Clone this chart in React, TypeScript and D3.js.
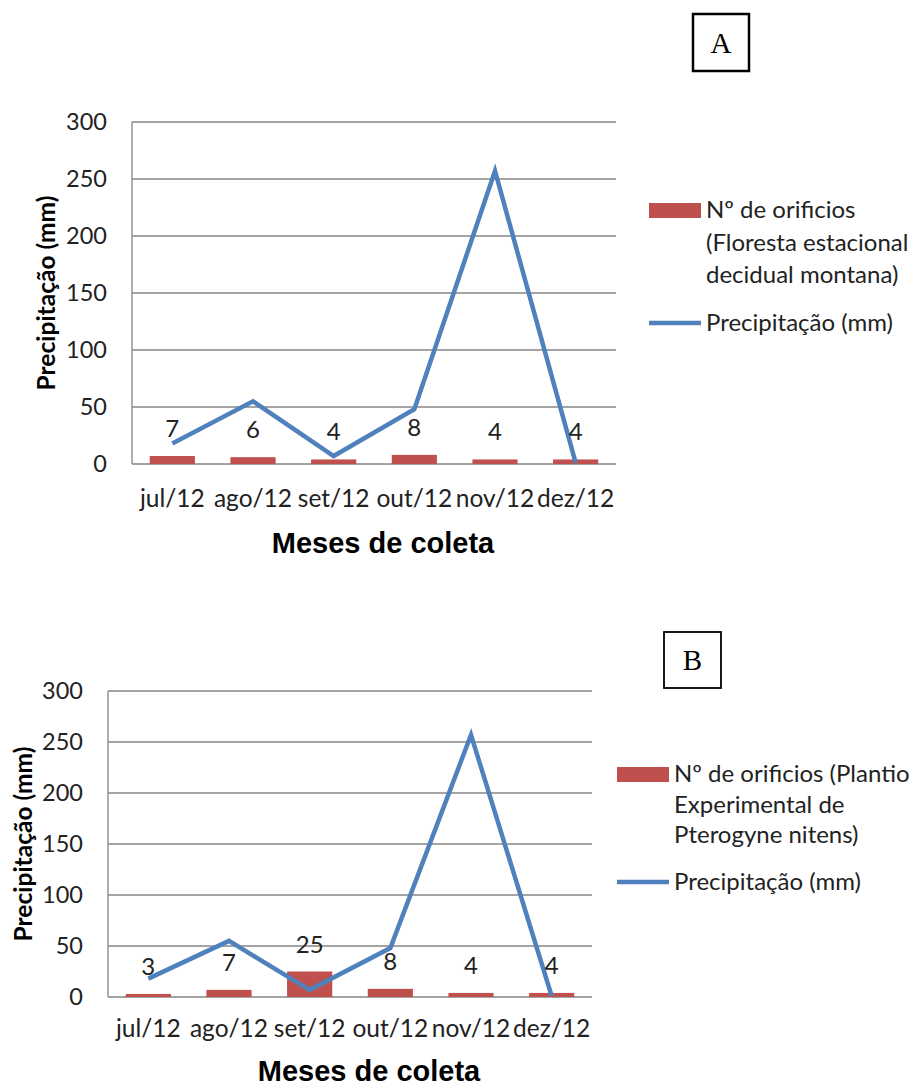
import React from "react";
import * as d3 from "d3";

const months = ["jul/12", "ago/12", "set/12", "out/12", "nov/12", "dez/12"];
const precipitation = [18, 55, 7, 48, 257, 1];
const holesA = [7, 6, 4, 8, 4, 4];
const holesB = [3, 7, 25, 8, 4, 4];
const yTicks = [0, 50, 100, 150, 200, 250, 300];
const legendA = ["Nº de orificios", "(Floresta estacional", "decidual montana)"];
const legendB = ["Nº de orificios (Plantio", "Experimental de", "Pterogyne nitens)"];
const lineLabel = "Precipitação (mm)";
const yTitle = "Precipitação (mm)";
const xTitle = "Meses de coleta";

const FONT = "Lato, 'Open Sans', sans-serif";
const RED = "#C0504D";
const BLUE = "#4F81BD";
const GRID = "#868686";

type PanelProps = {
  left: number; top: number; width: number; height: number;
  holes: number[]; legend: string[];
  legX: number; legY: number; legSpacing: number; lineY: number;
  yTitleX: number; xTitleX: number; xTitleY: number; tickY: number;
  boxX: number; boxY: number; boxW: number; boxH: number; boxLabel: string; boxStroke: number;
};

function Panel(p: PanelProps) {
  const x = d3.scaleBand<string>().domain(months).range([p.left, p.left + p.width]).paddingInner(0.44).paddingOuter(0.22);
  const y = d3.scaleLinear().domain([0, 300]).range([p.top + p.height, p.top]);
  const line = d3.line<number>()
    .x((_, i) => (x(months[i]) as number) + x.bandwidth() / 2)
    .y((d) => y(d));
  const cx = (m: string) => (x(m) as number) + x.bandwidth() / 2;
  return (
    <g>
      {yTicks.map((t) => (
        <line key={"g" + t} x1={p.left} x2={p.left + p.width} y1={y(t)} y2={y(t)} stroke={GRID} strokeWidth={1.3} />
      ))}
      <line x1={p.left} x2={p.left} y1={p.top} y2={p.top + p.height} stroke={GRID} strokeWidth={1.3} />
      {yTicks.map((t) => (
        <text key={"t" + t} x={p.left - 25} y={y(t)} dy="0.36em" textAnchor="end" fontFamily={FONT} fontSize={23.5} fill="#222">{t}</text>
      ))}
      {months.map((m, i) => (
        <rect key={"b" + m} x={x(m)} y={y(p.holes[i])} width={x.bandwidth()} height={y(0) - y(p.holes[i])} fill={RED} />
      ))}
      <path d={line(precipitation) as string} fill="none" stroke={BLUE} strokeWidth={4.5} strokeLinejoin="miter" />
      {months.map((m, i) => (
        <text key={"l" + m} x={cx(m)} y={y(p.holes[i]) - 19} textAnchor="middle" fontFamily={FONT} fontSize={24} fill="#222">{p.holes[i]}</text>
      ))}
      {months.map((m) => (
        <text key={"x" + m} x={cx(m)} y={p.tickY} textAnchor="middle" fontFamily={FONT} fontSize={24.5} fill="#222">{m}</text>
      ))}
      <text transform={`translate(${p.yTitleX},${p.top + p.height / 2}) rotate(-90)`} textAnchor="middle" fontFamily={FONT} fontWeight="bold" fontSize={24.5} fill="#000">{yTitle}</text>
      <text x={p.xTitleX} y={p.xTitleY} textAnchor="middle" fontFamily="'Liberation Sans', Arial, sans-serif" fontWeight="bold" fontSize={29} fill="#000">{xTitle}</text>
      <rect x={p.legX} y={p.legY - 15} width={52} height={15} fill={RED} />
      {p.legend.map((s, i) => (
        <text key={"lg" + i} x={p.legX + 57} y={p.legY + i * p.legSpacing} fontFamily={FONT} fontSize={24} fill="#222">{s}</text>
      ))}
      <line x1={p.legX} x2={p.legX + 52} y1={p.lineY} y2={p.lineY} stroke={BLUE} strokeWidth={4.5} />
      <text x={p.legX + 57} y={p.lineY + 8} fontFamily={FONT} fontSize={24} fill="#222">{lineLabel}</text>
      <rect x={p.boxX} y={p.boxY} width={p.boxW} height={p.boxH} fill="#fff" stroke="#000" strokeWidth={p.boxStroke} />
      <text x={p.boxX + p.boxW / 2} y={p.boxY + p.boxH / 2 + 10} textAnchor="middle" fontFamily="'Liberation Serif', 'DejaVu Serif', serif" fontSize={29} fill="#000">{p.boxLabel}</text>
    </g>
  );
}

export default function App() {
  return (
    <svg width={915} height={1088} style={{ position: "absolute", left: 0, top: 0, background: "#fff" }}>
      <rect width={915} height={1088} fill="#fff" />
      <Panel left={132} top={122} width={484} height={342} holes={holesA} legend={legendA}
        legX={649} legY={218} legSpacing={32.5} lineY={323}
        yTitleX={55} xTitleX={383} xTitleY={553} tickY={507}
        boxX={693} boxY={14} boxW={56} boxH={57} boxLabel="A" boxStroke={2.5} />
      <Panel left={108} top={691} width={484} height={306} holes={holesB} legend={legendB}
        legX={617} legY={782} legSpacing={30.5} lineY={882}
        yTitleX={32} xTitleX={369} xTitleY={1081} tickY={1037}
        boxX={664} boxY={632} boxW={57} boxH={56} boxLabel="B" boxStroke={1.8} />
    </svg>
  );
}
